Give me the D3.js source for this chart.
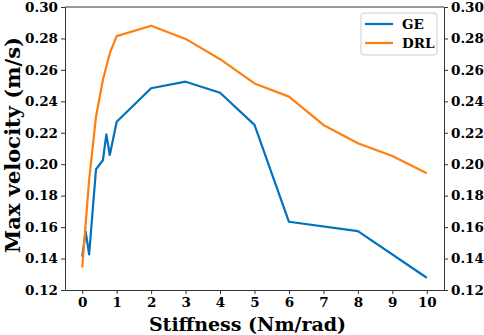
<!DOCTYPE html>
<html>
<head>
<meta charset="utf-8">
<script src="https://cdn.jsdelivr.net/npm/d3@7"></script>
<style>
  body { margin: 0; background: #fff; }
  text { font-family: "DejaVu Serif", serif; font-weight: bold; }
  .domain, .tick line { stroke: #333; }
</style>
</head>
<body>
<div id="chart"></div>
<script>
const geX = [0, 0.1, 0.2, 0.4, 0.6, 0.7, 0.8, 1, 2, 3, 4, 5, 6, 8, 10];
const geY = [0.1412, 0.1571, 0.1427, 0.1968, 0.2025, 0.219, 0.2059, 0.227, 0.2483, 0.2525, 0.2455, 0.225, 0.1634, 0.1575, 0.1278];
const drlX = [0, 0.2, 0.4, 0.6, 0.8, 1, 2, 3, 4, 5, 6, 7, 8, 9, 10];
const drlY = [0.1342, 0.19, 0.2302, 0.2536, 0.2706, 0.2815, 0.2881, 0.2797, 0.2668, 0.2514, 0.243, 0.225, 0.2133, 0.2052, 0.1942];
const xTicks = [0, 1, 2, 3, 4, 5, 6, 7, 8, 9, 10];
const yTicks = [0.12, 0.14, 0.16, 0.18, 0.20, 0.22, 0.24, 0.26, 0.28, 0.30];

const W = 484, H = 335;
const margin = { top: 7, right: 40, bottom: 45, left: 65 };
const width = W - margin.left - margin.right;
const height = H - margin.top - margin.bottom;

const svg = d3.select('#chart').append('svg')
    .attr('width', W)
    .attr('height', H);
const g = svg.append('g').attr('transform', `translate(${margin.left},${margin.top})`);

const x = d3.scaleLinear().domain([-0.5, 10.5]).range([0, width]);
const y = d3.scaleLinear().domain([0.12, 0.30]).range([height, 0]);

const fmt = d3.format('.2f');

g.append('g').attr('transform', `translate(0,${height})`)
    .call(d3.axisBottom(x).tickValues(xTicks).tickSize(4).tickPadding(3).tickSizeOuter(0))
    .selectAll('text').style('font-size', '13.5px').attr('fill', '#000');
g.append('g')
    .call(d3.axisLeft(y).tickValues(yTicks).tickFormat(fmt).tickSize(4).tickPadding(3).tickSizeOuter(0))
    .selectAll('text').style('font-size', '13.5px').attr('fill', '#000');
g.append('g').attr('transform', `translate(${width},0)`)
    .call(d3.axisRight(y).tickValues(yTicks).tickFormat(fmt).tickSize(4).tickPadding(3).tickSizeOuter(0))
    .selectAll('text').style('font-size', '13.5px').attr('fill', '#000');
g.append('line').attr('x1', 0).attr('x2', width).attr('y1', 0).attr('y2', 0).attr('stroke', '#333');

const line = d3.line().x(d => x(d[0])).y(d => y(d[1]));
const series = [
    { name: 'GE', color: '#0072bd', pts: d3.zip(geX, geY) },
    { name: 'DRL', color: '#ff7f0e', pts: d3.zip(drlX, drlY) }
];
series.forEach(s => {
    g.append('path').datum(s.pts)
        .attr('d', line)
        .attr('fill', 'none')
        .attr('stroke', s.color)
        .attr('stroke-width', 2.2)
        .attr('stroke-linejoin', 'round');
});

// legend
const lg = g.append('g').attr('transform', `translate(${width - 83},6)`);
lg.append('rect').attr('width', 76).attr('height', 42).attr('rx', 3)
    .attr('fill', '#fff').attr('stroke', '#ccc');
series.forEach((s, i) => {
    const yy = 11 + i * 19;
    lg.append('line').attr('x1', 4).attr('x2', 32).attr('y1', yy).attr('y2', yy)
        .attr('stroke', s.color).attr('stroke-width', 2.2);
    lg.append('text').attr('x', 41).attr('y', yy).attr('dy', '0.35em')
        .style('font-size', '13.5px').text(s.name);
});

svg.append('text')
    .attr('x', margin.left + width / 2 - 7).attr('y', 331)
    .attr('text-anchor', 'middle').style('font-size', '19px')
    .text('Stiffness (Nm/rad)');
svg.append('text')
    .attr('transform', `translate(20,${margin.top + 138}) rotate(-90)`)
    .attr('text-anchor', 'middle').style('font-size', '21px')
    .text('Max velocity (m/s)');
</script>
</body>
</html>
